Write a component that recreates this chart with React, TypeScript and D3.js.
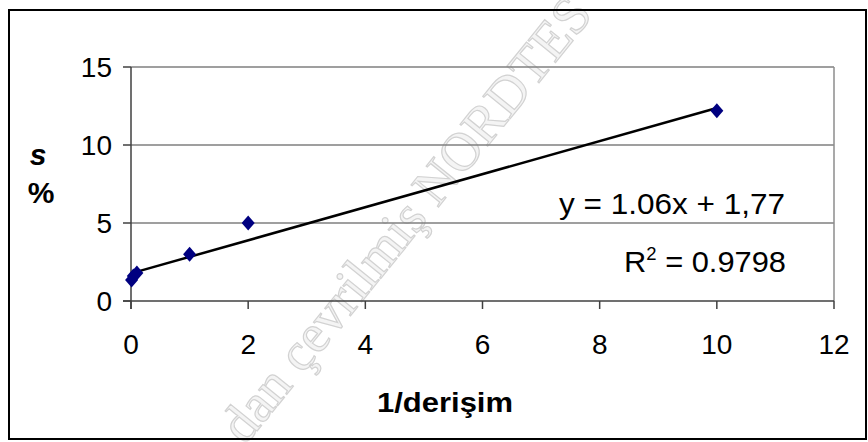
import * as d3 from "d3";

// data
const invConc = [0.01, 0.04, 0.1, 1, 2, 10];
const sPercent = [1.35, 1.6, 1.8, 3.0, 5.0, 12.2];
const xTicks = [0, 2, 4, 6, 8, 10, 12];
const yTicks = [0, 5, 10, 15];
const slope = 1.06;
const intercept = 1.77;
const eqLabel = "y = 1.06x + 1,77";
const r2Value = "0.9798";

const W = 868;
const H = 442;
const font = "'Liberation Sans', Arial, sans-serif";

const diamondPath = (hw: number, hh: number) => {
  const p = d3.path();
  p.moveTo(0, -hh);
  p.lineTo(hw, 0);
  p.lineTo(0, hh);
  p.lineTo(-hw, 0);
  p.closePath();
  return p.toString();
};

export default function App() {
  const x = d3.scaleLinear().domain([0, 12]).range([131, 834]);
  const y = d3.scaleLinear().domain([0, 15]).range([301, 67]);

  const points = invConc.map((v, i) => ({ x: v, y: sPercent[i] }));
  const trend = d3
    .line<number>()
    .x((d) => x(d))
    .y((d) => y(slope * d + intercept));

  const marker = diamondPath(6.5, 7.5);

  return (
    <svg
      width={W}
      height={H}
      viewBox={`0 0 ${W} ${H}`}
      style={{ position: "absolute", left: 0, top: 0, display: "block" }}
    >
      <rect x={0} y={0} width={W} height={H} fill="#fff" />

      {/* watermark */}
      <text
        transform="translate(245,446) rotate(-51)"
        fontFamily="'Liberation Serif', 'Times New Roman', serif"
        fontSize={54}
        fill="#f4f4f4"
        stroke="#d2d2d2"
        strokeWidth={1.2}
      >
        dan çevrilmiş NORDTES
      </text>

      <rect
        x={9}
        y={10}
        width={857}
        height={429}
        fill="none"
        stroke="#000"
        strokeWidth={2}
      />

      {/* grid */}
      {yTicks
        .filter((t) => t > 0)
        .map((t) => (
          <line
            key={t}
            x1={x(0)}
            x2={x(12)}
            y1={y(t)}
            y2={y(t)}
            stroke="#7f7f7f"
            strokeWidth={1.5}
          />
        ))}
      <line x1={x(12)} x2={x(12)} y1={y(15)} y2={y(0)} stroke="#8c8c8c" strokeWidth={1.5} />

      {/* axes */}
      <line x1={x(0)} x2={x(0)} y1={y(15)} y2={y(0) + 8} stroke="#404040" strokeWidth={1.5} />
      <line x1={x(0) - 8} x2={x(12)} y1={y(0)} y2={y(0)} stroke="#404040" strokeWidth={1.5} />
      {yTicks.map((t) => (
        <g key={t}>
          <line x1={x(0) - 8} x2={x(0)} y1={y(t)} y2={y(t)} stroke="#404040" strokeWidth={1.5} />
          <text
            x={x(0) - 19}
            y={y(t)}
            dy="0.36em"
            textAnchor="end"
            fontFamily={font}
            fontSize={28}
            fill="#000"
          >
            {t}
          </text>
        </g>
      ))}
      {xTicks.map((t) => (
        <g key={t}>
          <line x1={x(t)} x2={x(t)} y1={y(0)} y2={y(0) + 8} stroke="#404040" strokeWidth={1.5} />
          <text
            x={x(t)}
            y={354}
            textAnchor="middle"
            fontFamily={font}
            fontSize={28}
            fill="#000"
          >
            {t}
          </text>
        </g>
      ))}

      {/* trend line */}
      <path d={trend([0, 10]) ?? ""} fill="none" stroke="#000" strokeWidth={2.5} />

      {/* points */}
      {points.map((p, i) => (
        <path
          key={i}
          d={marker}
          transform={`translate(${x(p.x)},${y(p.y)})`}
          fill="#000080"
        />
      ))}

      {/* equation */}
      <text
        x={559}
        y={214}
        textLength={226}
        lengthAdjust="spacingAndGlyphs"
        fontFamily={font}
        fontSize={30}
        fill="#000"
      >
        {eqLabel}
      </text>
      <text
        x={624}
        y={272}
        textLength={162}
        lengthAdjust="spacingAndGlyphs"
        fontFamily={font}
        fontSize={30}
        fill="#000"
      >
        R<tspan dy={-12} fontSize={18}>2</tspan>
        <tspan dy={12}>{" = " + r2Value}</tspan>
      </text>

      {/* axis titles */}
      <text
        x={377}
        y={412}
        textLength={136}
        lengthAdjust="spacingAndGlyphs"
        fontFamily={font}
        fontSize={28}
        fontWeight="bold"
        fill="#000"
      >
        1/derişim
      </text>
      <text
        x={38}
        y={165}
        textAnchor="middle"
        fontFamily={font}
        fontSize={30}
        fontWeight="bold"
        fontStyle="italic"
        fill="#000"
      >
        s
      </text>
      <text
        x={41}
        y={203}
        textAnchor="middle"
        fontFamily={font}
        fontSize={30}
        fontWeight="bold"
        fill="#000"
      >
        %
      </text>
    </svg>
  );
}
